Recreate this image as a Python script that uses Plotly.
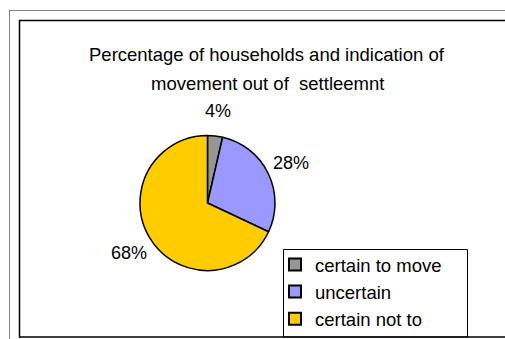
import math
import plotly.graph_objects as go

labels = ["certain to move", "uncertain", "certain not to"]
values = [3.6, 28.4, 68.0]
colors = ["#969696", "#9999FF", "#FFCC00"]
title_lines = ["Percentage of households and indication of", "movement out of  settleemnt"]

W, H = 505, 339
cx, cy, r = 207.5, 203.0, 67.5  # pie centre / radius in pixels

fig = go.Figure(go.Pie(
    labels=labels, values=values, sort=False, direction="clockwise", rotation=0,
    marker=dict(colors=colors, line=dict(color="#000000", width=1.5)),
    textinfo="none", hoverinfo="label+percent",
    domain=dict(x=[(cx - r) / W, (cx + r) / W], y=[1 - (cy + r) / H, 1 - (cy - r) / H]),
))

font = "Liberation Sans, Arial, sans-serif"
annotations = []
total = sum(values)
cum = 0.0
for v in values:
    mid = (cum + v / 2) / total * 2 * math.pi
    cum += v
    px = cx + 1.37 * r * math.sin(mid)
    py = cy - 1.37 * r * math.cos(mid)
    annotations.append(dict(x=px / W, y=1 - py / H, xref="paper", yref="paper",
                            xanchor="center", yanchor="middle",
                            text=f"{round(v / total * 100)}%", showarrow=False,
                            font=dict(family=font, size=18, color="#000000")))
for i, t in enumerate(title_lines):
    annotations.append(dict(x=267 / W, y=1 - (55 + 28 * i) / H, xref="paper", yref="paper",
                            xanchor="center", yanchor="middle",
                            text=t, showarrow=False,
                            font=dict(family=font, size=18.5, color="#000000")))


def hline(x0, x1, y, color, width):
    return dict(type="line", xref="paper", yref="paper", x0=x0 / W, x1=x1 / W,
                y0=1 - y / H, y1=1 - y / H, line=dict(color=color, width=width))


def vline(x, y0, y1, color, width):
    return dict(type="line", xref="paper", yref="paper", x0=x / W, x1=x / W,
                y0=1 - y0 / H, y1=1 - y1 / H, line=dict(color=color, width=width))


shapes = [
    hline(9, W, 10.5, "#808080", 1),
    vline(9.5, 10, H, "#808080", 1),
    hline(19, W, 20.5, "#000000", 1.5),
    vline(19.5, 20, 337.5, "#000000", 1.5),
    # legend frame
    dict(type="rect", xref="paper", yref="paper", x0=283.5 / W, x1=467.5 / W,
         y0=1 - 337 / H, y1=1 - 249.5 / H, fillcolor="white", line=dict(color="#000000", width=1)),
    hline(19, W, 337, "#000000", 1.5),
]

fig.update_layout(
    width=W, height=H, margin=dict(l=0, r=0, t=0, b=0),
    paper_bgcolor="white", plot_bgcolor="white",
    showlegend=True,
    legend=dict(x=275 / W, y=1 - 246 / H, xanchor="left", yanchor="top",
                bgcolor="rgba(0,0,0,0)", borderwidth=0,
                font=dict(family=font, size=18.5, color="#000000"),
                itemsizing="constant", tracegroupgap=0),
    annotations=annotations, shapes=shapes,
)
fig.write_html("out.html", config={"displayModeBar": False})
